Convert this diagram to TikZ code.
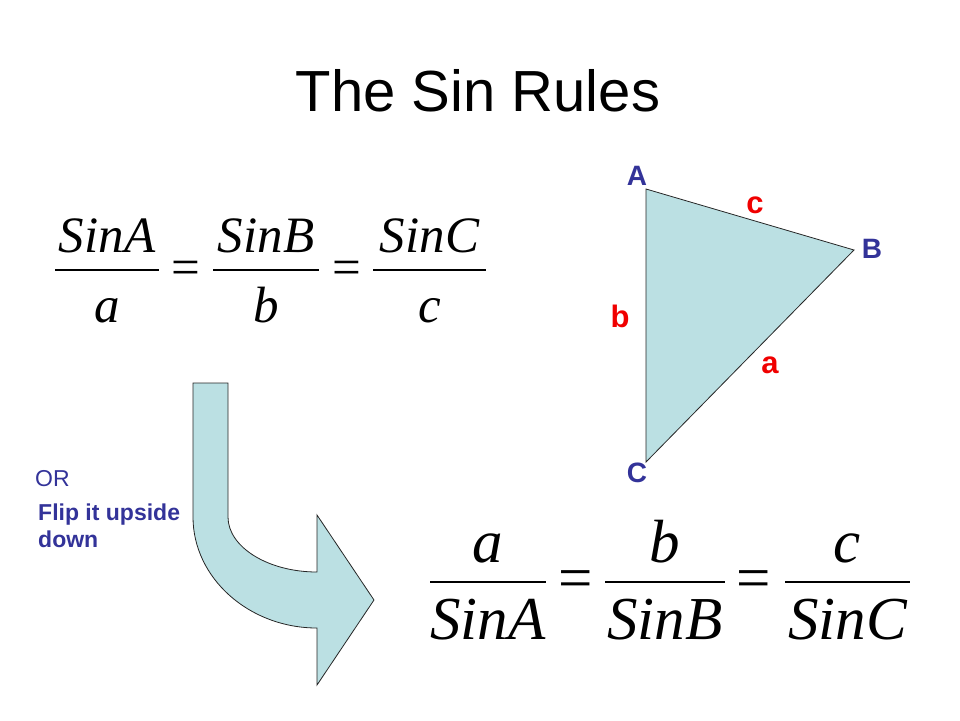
\documentclass[tikz,border=0pt]{standalone}
\usepackage{fontspec}
\setmainfont{Liberation Serif}
\setsansfont{Liberation Sans}
\definecolor{paleblue}{RGB}{187,224,227}
\definecolor{vertexblue}{RGB}{51,51,153}
\definecolor{sidered}{RGB}{240,0,0}
\begin{document}
\begin{tikzpicture}[
x=1pt, y=-1pt,
titletext/.style={font=\sffamily\fontsize{58}{70}\selectfont},
topeq/.style={
  font=\itshape\fontsize{51}{60}\selectfont,
  inner sep=0pt,
  anchor=base
  },
boteq/.style={
  font=\itshape\fontsize{61}{70}\selectfont,
  inner sep=0pt,
  anchor=base
  },
eqsign/.style={inner sep=0pt, anchor=base},
fracbar/.style={line width=1.5pt},
bluefill/.style={fill=paleblue, draw=black!85, line width=0.8pt},
vertexlabel/.style={font=\sffamily\bfseries\fontsize{28}{32}\selectfont, text=vertexblue, inner sep=0pt},
sidelabel/.style={font=\sffamily\bfseries\fontsize{31}{36}\selectfont, text=sidered, inner sep=0pt},
notetext/.style={font=\sffamily\fontsize{23}{27}\selectfont, text=vertexblue, inner sep=0pt}
]
\useasboundingbox (0,0) rectangle (960,720);

\node[titletext, anchor=base] (title) at (478,111) {The Sin Rules};

% sin over side
\foreach \Num/\Den/\Left/\Right [count=\i] in {SinA/a/55/159, SinB/b/213/319, SinC/c/373/486}
  {
  \node[topeq] (tnum\i) at ({(\Left+\Right)/2},252) {\Num};
  \node[topeq] (tden\i) at ({(\Left+\Right)/2},322) {\Den};
  \draw[fracbar] (\Left,270) -- (\Right,270);
  }
\foreach \X [count=\i] in {186,347}
  \node[eqsign, font=\fontsize{51}{60}\selectfont] (teq\i) at (\X,284) {=};

% side over sin
\foreach \Num/\Den/\Left/\Right [count=\i] in {a/SinA/430/546, b/SinB/605/725, c/SinC/785/910}
  {
  \node[boteq] (bnum\i) at ({(\Left+\Right)/2},562) {\Num};
  \node[boteq] (bden\i) at ({(\Left+\Right)/2},639) {\Den};
  \draw[fracbar] (\Left,582) -- (\Right,582);
  }
\foreach \X [count=\i] in {576,754}
  \node[eqsign, font=\fontsize{61}{70}\selectfont] (beq\i) at (\X,598) {=};

% triangle
\coordinate (A) at (646,189);
\coordinate (B) at (854,250);
\coordinate (C) at (646,462);
\filldraw[bluefill] (A) -- (B) -- (C) -- cycle;
\node[vertexlabel] (labA) at (637,176) {A};
\node[vertexlabel] (labB) at (872,249) {B};
\node[vertexlabel] (labC) at (637,473) {C};
\node[sidelabel] (labc) at (755,205) {c};
\node[sidelabel] (labb) at (620,316) {b};
\node[sidelabel] (laba) at (770,365) {a};

% bent arrow
\filldraw[bluefill]
  (193,383) -- (228,383) -- (228,517)
  .. controls (228,547) and (268,572) .. (317,572)
  -- (317,515) -- (374,600) -- (317,685) -- (317,628)
  .. controls (249,628) and (193,578) .. (193,517)
  -- cycle;

\node[notetext, anchor=base west] (ortext) at (35,486) {OR};
\node[notetext, font=\sffamily\bfseries\fontsize{23}{27}\selectfont, anchor=north west, align=left] (fliptext) at (38,504) {Flip it upside\\down};
\end{tikzpicture}
\end{document}
